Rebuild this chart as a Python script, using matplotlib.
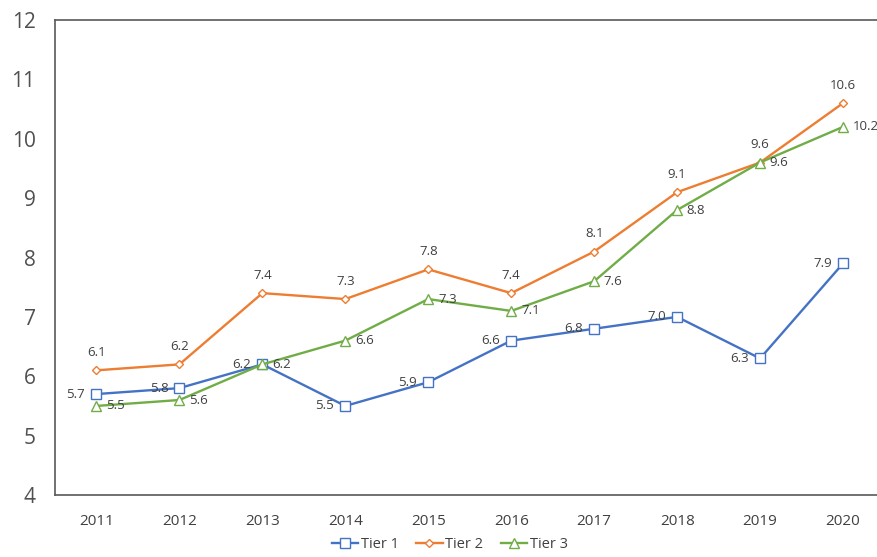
import matplotlib.pyplot as plt

plt.rcParams['font.family'] = ['Open Sans', 'DejaVu Sans']

years = ['2011', '2012', '2013', '2014', '2015', '2016', '2017', '2018', '2019', '2020']
tier1 = [5.7, 5.8, 6.2, 5.5, 5.9, 6.6, 6.8, 7.0, 6.3, 7.9]
tier2 = [6.1, 6.2, 7.4, 7.3, 7.8, 7.4, 8.1, 9.1, 9.6, 10.6]
tier3 = [5.5, 5.6, 6.2, 6.6, 7.3, 7.1, 7.6, 8.8, 9.6, 10.2]

blue = '#4472C4'
orange = '#ED7D31'
green = '#70AD47'
text_color = '#404040'

W, H = 877, 557
fig = plt.figure(figsize=(W / 100, H / 100), dpi=100)
# plot box runs slightly past the right edge of the figure
ax = fig.add_axes([55 / W, (H - 495) / H, (884.5 - 55) / W, (495 - 20) / H])

x = list(range(len(years)))
ax.plot(x, tier1, color=blue, lw=1.7, marker='s', ms=6.5, mfc='white', mec=blue, mew=1.0, label='Tier 1')
ax.plot(x, tier2, color=orange, lw=1.7, marker='D', ms=4.5, mfc='white', mec=orange, mew=1.0, label='Tier 2')
ax.plot(x, tier3, color=green, lw=1.7, marker='^', ms=6.5, mfc='white', mec=green, mew=1.0, label='Tier 3')

# value labels: tier 1 to the left, tier 2 above, tier 3 to the right
for i, v in enumerate(tier1):
    ax.annotate(f'{v:.1f}', (i, v), xytext=(-8, 0), textcoords='offset points',
                ha='right', va='center', fontsize=9.5, color=text_color)
for i, v in enumerate(tier2):
    ax.annotate(f'{v:.1f}', (i, v), xytext=(0, 8), textcoords='offset points',
                ha='center', va='bottom', fontsize=9.5, color=text_color)
for i, v in enumerate(tier3):
    ax.annotate(f'{v:.1f}', (i, v), xytext=(7, 0), textcoords='offset points',
                ha='left', va='center', fontsize=9.5, color=text_color, annotation_clip=False)

ax.set_xlim(-0.5, len(years) - 0.5)
ax.set_ylim(4, 12)
ax.set_xticks(x)
ax.set_xticklabels(years)
ax.set_yticks(range(4, 13))
ax.tick_params(axis='x', length=0, labelsize=11, colors=text_color, pad=14)
ax.tick_params(axis='y', length=0, labelsize=15, colors='#505050', pad=14)

for side in ['left', 'top', 'bottom']:
    ax.spines[side].set_color('#595959')
    ax.spines[side].set_linewidth(1.2)
ax.spines['right'].set_visible(False)

fig.legend(loc='lower center', bbox_to_anchor=(0.513, -0.015), ncol=3, frameon=False,
           fontsize=10.5, labelcolor=text_color, handlelength=1.8, columnspacing=1.2, handletextpad=0.2)

fig.savefig('out.png', dpi=100)
